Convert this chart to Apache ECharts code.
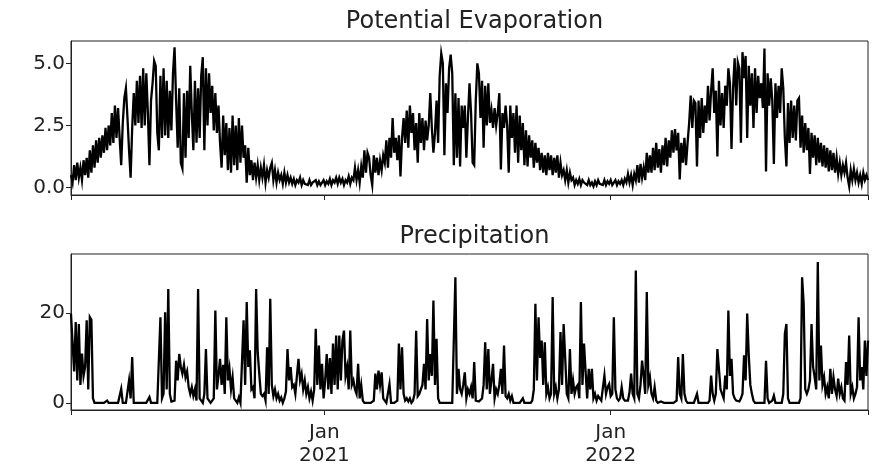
<!DOCTYPE html>
<html><head><meta charset="utf-8">
<script src="https://cdn.jsdelivr.net/npm/echarts@6/dist/echarts.min.js"></script>
<style>html,body{margin:0;padding:0;background:#fff}#c{width:875px;height:468px}</style>
</head><body><div id="c"></div>
<script>
// Observations every 2 days starting 2020-02-13
const START = [2020, 1, 13];
const STEP_DAYS = 2;
const titles = ['Potential Evaporation', 'Precipitation'];
const xTickDates = [[2021, 0, 1], [2022, 0, 1]];
const xTickLabels = ['Jan\n2021', 'Jan\n2022'];
const evapTicks = [0, 2.5, 5.0];
const precipTicks = [0, 20];

const evapValues = [
0.5,0.2,0.9,0.3,1.0,0.4,0.8,0.3,1.1,0.5,
1.2,0.4,1.5,0.6,1.7,0.8,1.9,1.0,2.0,1.2,
2.1,1.4,2.4,1.5,2.5,1.7,3.0,1.8,3.3,2.0,
3.2,2.0,0.9,2.6,3.6,4.0,2.8,1.5,0.4,2.4,
3.8,2.5,4.3,2.6,4.5,2.4,4.8,2.5,4.6,3.0,
0.9,3.5,4.2,5.1,4.9,2.2,1.5,4.5,2.0,4.8,
2.1,4.3,2.0,3.9,2.3,4.6,5.65,3.5,1.6,4.0,
1.0,0.77,3.8,1.2,3.9,2.0,4.9,3.0,1.5,4.3,
1.8,4.0,2.0,4.5,5.25,1.5,4.8,2.5,4.6,3.0,
4.1,2.3,3.8,2.2,3.3,1.8,0.8,2.9,1.3,2.6,
0.7,2.4,0.6,2.9,0.9,2.5,0.7,2.8,1.0,2.5,
1.2,1.7,0.2,1.6,0.5,1.1,0.3,1.0,0.4,0.9,
0.3,0.8,0.4,0.9,0.2,0.7,0.4,0.8,1.0,0.3,
0.7,0.2,0.6,0.3,0.5,0.15,0.6,0.2,0.5,0.2,
0.4,0.15,0.35,0.1,0.3,0.2,0.4,0.1,0.3,0.15,
0.2,0.1,0.3,0.1,0.2,0.15,0.3,0.1,0.25,0.1,
0.2,0.3,0.1,0.25,0.15,0.35,0.1,0.3,0.2,0.4,
0.15,0.4,0.2,0.35,0.1,0.3,0.2,0.45,0.15,0.4,
0.3,0.8,0.3,0.7,0.2,0.85,0.4,1.5,0.6,1.4,
1.2,0.5,0.1,1.3,0.6,1.2,0.5,1.1,0.7,1.3,
1.0,1.9,0.8,2.0,1.2,2.8,1.4,2.0,1.1,2.1,
0.45,2.0,2.8,1.8,3.1,1.6,3.3,2.2,3.0,1.5,
2.6,1.0,3.0,1.8,2.8,1.5,2.7,1.9,2.5,3.8,
2.4,1.4,2.2,3.5,1.8,4.5,5.4,5.0,1.3,4.2,
3.0,4.8,5.35,4.6,0.9,3.8,1.2,3.6,0.85,3.3,
2.4,3.3,1.2,2.8,4.2,3.0,1.0,0.9,3.5,5.0,
4.6,2.8,4.3,1.6,4.1,2.5,4.2,2.6,3.1,2.4,
3.2,2.5,3.0,3.8,0.73,3.0,2.4,3.3,2.5,0.6,
3.3,2.0,3.0,1.4,3.3,1.0,2.9,1.5,2.6,0.9,
2.3,0.85,2.1,1.2,1.9,0.8,1.8,1.0,1.6,0.7,
1.4,0.6,1.3,0.5,1.4,0.7,1.3,0.5,1.2,0.6,
1.3,0.4,1.0,0.5,0.7,0.3,0.7,0.2,0.6,0.3,
0.4,0.1,0.3,0.15,0.35,0.1,0.3,0.2,0.25,0.1,
0.3,0.1,0.2,0.05,0.25,0.1,0.3,0.15,0.2,0.1,
0.3,0.1,0.25,0.15,0.3,0.1,0.2,0.3,0.1,0.25,
0.15,0.3,0.1,0.35,0.2,0.55,0.2,0.5,0.1,0.55,
0.3,0.9,0.2,0.95,0.4,0.8,0.3,1.4,0.6,1.3,
0.6,1.6,0.7,1.8,0.8,1.55,0.6,1.7,0.9,2.0,
0.85,1.9,1.2,2.3,1.4,2.35,1.5,2.2,0.33,1.8,
1.0,2.0,0.9,1.8,2.6,3.7,2.4,3.5,3.4,0.85,
3.5,2.0,3.6,2.2,3.3,2.6,4.1,2.7,3.9,4.8,
3.0,3.9,1.25,4.3,2.5,3.8,2.4,4.1,3.3,4.8,
4.2,1.55,4.0,5.2,3.3,5.05,4.8,1.8,5.45,4.4,
5.3,2.0,4.9,3.3,4.6,2.4,4.8,3.0,4.5,3.6,
4.2,3.2,5.6,0.65,4.6,3.3,4.4,3.5,0.95,4.2,
2.8,4.1,3.0,4.8,4.0,2.0,0.85,3.4,1.8,3.5,
2.0,3.3,1.9,3.5,3.6,1.6,2.9,1.4,2.6,1.5,
2.4,0.55,2.2,1.2,2.1,0.9,2.0,1.0,1.8,0.85,
1.7,0.8,1.6,0.65,1.5,0.7,1.4,0.6,1.2,0.55,
1.0,0.5,0.9,0.6,1.0,0.4,0.05,0.7,0.3,0.75,
0.3,0.6,0.2,0.5,0.15,0.6,0.3,0.5,0.3
];

const precipValues = [
19.8,20,7,18,5,17.6,4,11,6,8,
18.4,3,19.1,18.5,1,0,0,0,0,0,
0,0,0,0.5,0,0,0,0,0,0,
0,0,3.1,0,0,0,0,5,1,10.2,
0,0,0,0,0,0,0,0,0,0,
1.3,0,0,0,0,0,0,19.1,1,2,
20.2,3,25.4,2,0.3,0,0.5,9.4,5,10.9,
8,6.5,8.5,5.7,7,3.5,2,3.5,1.5,3,
0.5,25.4,1,0.5,0,2,12,1,0.5,0,
0.5,1,20.6,3,6,9.8,4,8.5,2,19.1,
5,7.6,3,5.7,1,0.5,0,1.2,0,0.3,
18.4,4,22.5,8,11.7,3,3.5,1,25.4,11.3,
6.5,2,1.5,2,0.5,12.4,2,23.2,4,1.5,
3,1,2,0.5,1.2,0,1,2.5,12,5,
8,3.5,4,2,6,9.8,5,6.5,3,5,
2,3.5,1,2.5,0.5,3,16.5,4,12.8,3,
8.7,1,5,10.9,3,10,2,13.2,4,15,
3,15,5,13.9,16.1,6,8,3,16.1,4,
5,3,2,8.7,1,3.9,0.5,0,0,0,
0,0,0,0.5,6.5,3,7.2,4,6.8,1,
0.5,0,0,4.2,0,0,0,0,0.5,13.2,
3,12.4,2,0.5,1,0.3,1,0,0.5,2,
16.1,1.5,2,3,4,8.7,3,18.7,5,10.9,
6,22.8,4,14.3,1,0,0,0,0,0,
0,0,0,0,0,28,2,7.6,3,2,
4,6.8,1,3,2,3.5,1,9.1,0.5,0.5,
0.3,0,1,4,13.5,3,12,2,5,8.7,
1,3,2,4,7.6,2,12.8,1.5,1,2,
0.5,1.5,0,0,0,0,0,0,1,0,
0,0,0,0,0.5,3,22.1,5,19.1,10,
13.9,4,13.5,2,3.5,1,2,23.6,2,3.5,
1,3,15.8,4,17.6,10,2,1,12,2,
5,2,3.5,4,1,22.5,4,13.2,7,1,
7.6,3,7.6,1,2,0.5,1.5,1,0.5,0.5,
6.1,2,3.5,4.2,1.5,2,19.1,3,1,0.5,
1,3.5,1,0.5,0.3,0.5,2.4,6.5,2,1,
29.5,2,1,4,9.4,6,2,24.7,4,5.7,
2,1,3.5,0.5,0,0,0.3,0,0,0,
0,0,0,0,0,0,0.5,10.2,2,1,
10.9,2,0.5,0,0,0,0,0,0,2,
0,0,0,0,0,0,0,0.5,6.1,2,
0.5,2,12,12,3,2,1,6.1,3,20.6,
6,9.8,2,1,0.5,0.5,0.3,1,2,10.6,
5,19.9,10.6,4,2,0.5,0,0,0,0,
0,0,0,9.4,1,0,0,0.5,1.6,0,
0,0,0,0,2,15.4,17.6,1,0,0,
0,0,0,0,0,1,28,22.1,3,2,
3,5,17.6,8,5.7,3,31.4,5,12.8,4,
5.7,2,3.5,1,7.6,2,5.7,3,1.5,5.4,
2,3.5,1,0.5,9.1,4,15,2,3.5,1,
2,3.5,19.1,5,8,3,13.9,6,13.9
];

// x positions expressed as days since START
const DAY = 86400000;
const startUTC = Date.UTC(START[0], START[1], START[2]);
function dayOf(d) { return Math.round((Date.UTC(d[0], d[1], d[2]) - startUTC) / DAY); }
const xStart = 0;
const xEnd = (evapValues.length - 1) * STEP_DAYS;
const tickDays = xTickDates.map(dayOf);

const FONT = 'DejaVu Sans';
const INK = '#222';
const TICK_FS = 20;
const TITLE_FS = 24;
const LINE_W = 2.3;

function xAxis(gridIndex, showLabels) {
  return {
    type: 'value', gridIndex: gridIndex, min: xStart, max: xEnd,
    axisLine: { show: true, onZero: false, lineStyle: { color: INK, width: 1 } },
    axisTick: { show: true, length: 5, lineStyle: { color: INK, width: 1 }, customValues: [xStart].concat(tickDays, [xEnd]) },
    axisLabel: {
      show: showLabels, customValues: tickDays, margin: 11, color: INK, fontSize: TICK_FS, fontFamily: FONT, lineHeight: 23,
      formatter: function (v) { const k = tickDays.indexOf(Math.round(+v)); return k >= 0 ? xTickLabels[k] : ''; }
    },
    splitLine: { show: false }
  };
}
function yAxis(gridIndex, min, max, ticks, fmt) {
  return {
    type: 'value', gridIndex: gridIndex, min: min, max: max,
    axisLine: { show: true, onZero: false, lineStyle: { color: INK, width: 1 } },
    axisTick: { show: true, length: 5, lineStyle: { color: INK, width: 1 }, customValues: ticks },
    axisLabel: { customValues: ticks, margin: 6, color: INK, fontSize: TICK_FS, fontFamily: FONT, formatter: fmt },
    splitLine: { show: false }
  };
}

const chart = echarts.init(document.getElementById('c'), null, { renderer: 'canvas' });
chart.setOption({
  animation: false,
  backgroundColor: '#fff',
  title: [
    { text: titles[0], left: 469.5, top: 5, textAlign: 'center', textStyle: { fontSize: TITLE_FS, fontWeight: 'normal', color: INK, fontFamily: FONT } },
    { text: titles[1], left: 469.5, top: 220, textAlign: 'center', textStyle: { fontSize: TITLE_FS, fontWeight: 'normal', color: INK, fontFamily: FONT } }
  ],
  grid: [
    { left: 71, right: 7, top: 41, height: 154, show: true, borderColor: INK, borderWidth: 1, backgroundColor: 'transparent' },
    { left: 71, right: 7, top: 254, height: 156, show: true, borderColor: INK, borderWidth: 1, backgroundColor: 'transparent' }
  ],
  xAxis: [xAxis(0, false), xAxis(1, true)],
  yAxis: [
    yAxis(0, -0.3, 5.9, evapTicks, v => Number(v).toFixed(1)),
    yAxis(1, -1.6, 33.2, precipTicks, v => String(v))
  ],
  series: [
    { type: 'line', xAxisIndex: 0, yAxisIndex: 0, showSymbol: false, symbol: 'none', lineStyle: { color: '#000', width: LINE_W, join: 'miter' },
      data: evapValues.map((v, i) => [i * STEP_DAYS, v]) },
    { type: 'line', xAxisIndex: 1, yAxisIndex: 1, showSymbol: false, symbol: 'none', lineStyle: { color: '#000', width: LINE_W, join: 'miter' },
      data: precipValues.map((v, i) => [i * STEP_DAYS, v]) }
  ]
});
</script>
</body></html>
